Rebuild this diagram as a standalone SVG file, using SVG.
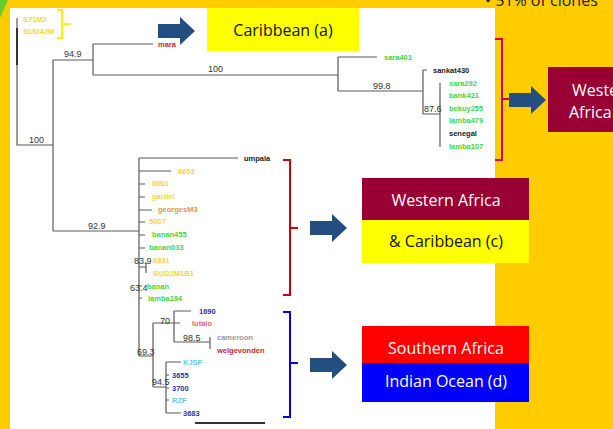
<svg xmlns="http://www.w3.org/2000/svg" width="613" height="429" viewBox="0 0 613 429">
<style>
.tree{fill:none;stroke:#5a5a5a;stroke-width:1.2}
.leaf{font-family:"Liberation Sans",Arial,sans-serif;font-size:7.5px;font-weight:bold}
.sup{font-family:"Liberation Sans",Arial,sans-serif;font-size:9px;fill:#333}
.box{font-family:"Open Sans","Liberation Sans",sans-serif;font-size:16px;text-anchor:middle}
.g{fill:#3fd63f}.y{fill:#f0d640}.o{fill:#e39a2a}.k{fill:#222}.r{fill:#cc1f1f}.db{fill:#333399}.lb{fill:#66c8e8}.pk{fill:#e06a6a}.gr{fill:#999}
.arrow{fill:#234e80}
</style>
<defs>
<path id="arr" d="M0,7 H22 V0 L37,14 L22,28 V21 H0 Z"/>
</defs>
<rect width="613" height="429" fill="#ffcc00"/>
<polygon points="0,0 8,0 0,18" fill="#66cc33"/>
<rect x="10" y="8" width="485" height="421" fill="#ffffff"/>
<text x="485" y="6" font-family="Open Sans, Liberation Sans, sans-serif" font-size="16" fill="#222">• 51% of clones</text>

<g id="connectors">
<path class="tree" d="M17,18 V145 H53 M53,60 V231 M53,60 H93 M53,231 H139 M93,44 V75 M93,44 H153 M93,75 H338 M338,57 V91 M338,57 H377 M338,91 H423 M423,70 V114 M423,70 H427 M423,114 H440 M440,83 V147"/>
<path d="M17,28 V65" stroke="#333" stroke-width="2"/>
<path class="tree" d="M139,158 V356 M139,158 H238 M139,171 H171 M139,184 H145 M139,197 H145 M139,210 H152 M139,222 H145 M139,235 H145 M139,248 H145 M139,267 H146 M146,262 V273 M139,286 H142 M139,298 H142 M139,356 H153 M153,323 V387 M153,323 H174 M153,387 H166 M174,311 V342 M174,311 H191 M174,323 H180 M174,342 H210 M210,337 V349 M166,362 V413 M166,362 H181 M166,375 H169 M166,388 H169 M166,400 H169 M166,413 H181"/>
<path d="M195,423 H265" stroke="#333" stroke-width="2"/>
</g>

<g id="supports">
<text class="sup" x="29" y="143">100</text>
<text class="sup" x="64" y="57">94.9</text>
<text class="sup" x="208" y="72">100</text>
<text class="sup" x="373" y="89">99.8</text>
<text class="sup" x="424" y="112">87.6</text>
<text class="sup" x="88" y="229">92.9</text>
<text class="sup" x="134" y="264">83.9</text>
<text class="sup" x="130" y="291">63.4</text>
<text class="sup" x="160" y="324">70</text>
<text class="sup" x="183" y="341">98.5</text>
<text class="sup" x="137" y="355">69.3</text>
<text class="sup" x="152" y="385">94.5</text>
</g>

<g id="leaves">
<text class="leaf y" x="23" y="22">S71M2</text>
<text class="leaf y" x="23" y="34">SUI24JM</text>
<text class="leaf r" x="158" y="47">mara</text>
<text class="leaf g" x="384" y="60">sara401</text>
<text class="leaf k" x="433" y="73">sankat430</text>
<text class="leaf g" x="449" y="86">sara292</text>
<text class="leaf g" x="449" y="98">bank421</text>
<text class="leaf g" x="449" y="111">bekuy255</text>
<text class="leaf g" x="449" y="123">lamba479</text>
<text class="leaf k" x="449" y="136">senegal</text>
<text class="leaf g" x="449" y="149">lamba107</text>
<text class="leaf k" x="244" y="161">umpala</text>
<text class="leaf y" x="178" y="174">6653</text>
<text class="leaf y" x="152" y="186">6001</text>
<text class="leaf y" x="152" y="199">gardel</text>
<text class="leaf o" x="158" y="212">georgesM3</text>
<text class="leaf y" x="149" y="224">5007</text>
<text class="leaf g" x="152" y="237">banan455</text>
<text class="leaf g" x="149" y="250">banan033</text>
<text class="leaf y" x="153" y="263">6831</text>
<text class="leaf y" x="153" y="276">SUI22M1B1</text>
<text class="leaf g" x="147" y="289">banan</text>
<text class="leaf g" x="148" y="301">lamba194</text>
<text class="leaf db" x="199" y="314">1690</text>
<text class="leaf pk" x="192" y="326">lutalo</text>
<text class="leaf gr" x="217" y="340">cameroon</text>
<text class="leaf r" x="217" y="353">welgevonden</text>
<text class="leaf lb" x="183" y="365">KJSF</text>
<text class="leaf db" x="172" y="378">3655</text>
<text class="leaf db" x="172" y="391">3700</text>
<text class="leaf lb" x="172" y="403">RZF</text>
<text class="leaf db" x="183" y="416">3683</text>
</g>

<g id="brackets" fill="none" stroke-width="2">
<path d="M57,10 H62 V38 H57 M62,24 H71" stroke="#ffee00"/>
<path d="M495,39 H502 V160 H495 M502,99 H509" stroke="#cc0066"/>
<path d="M283,160 H290 V295 H283 M290,228 H298" stroke="#cc0000"/>
<path d="M283,312 H290 V417 H283 M290,363 H298" stroke="#0000ee"/>
</g>

<g id="arrows">
<use href="#arr" class="arrow" transform="translate(158,17)"/>
<use href="#arr" class="arrow" transform="translate(509,86)"/>
<use href="#arr" class="arrow" transform="translate(310,214)"/>
<use href="#arr" class="arrow" transform="translate(310,351)"/>
</g>

<g id="node-caribbean-a">
<rect x="207" y="8" width="152" height="43" fill="#ffff00"/>
<text class="box" x="283" y="36" fill="#111">Caribbean (a)</text>
</g>
<g id="node-western-africa-b">
<rect x="548" y="67" width="65" height="65" fill="#990033"/>
<text x="572" y="96" font-family="Open Sans, Liberation Sans, sans-serif" font-size="16" fill="#fff">Weste</text>
<text x="569" y="118" font-family="Open Sans, Liberation Sans, sans-serif" font-size="16" fill="#fff">Africa</text>
</g>
<g id="node-western-africa-c">
<rect x="362" y="178" width="167" height="42" fill="#990033"/>
<rect x="362" y="220" width="167" height="43" fill="#ffff00"/>
<text class="box" x="446" y="206" fill="#fff">Western Africa</text>
<text class="box" x="446" y="247" fill="#111">&amp; Caribbean (c)</text>
</g>
<g id="node-southern-africa-d">
<rect x="362" y="326" width="167" height="37" fill="#ff0000"/>
<rect x="362" y="363" width="167" height="39" fill="#0000ff"/>
<text class="box" x="446" y="354" fill="#fff">Southern Africa</text>
<text class="box" x="446" y="387" fill="#fff">Indian Ocean (d)</text>
</g>
</svg>
